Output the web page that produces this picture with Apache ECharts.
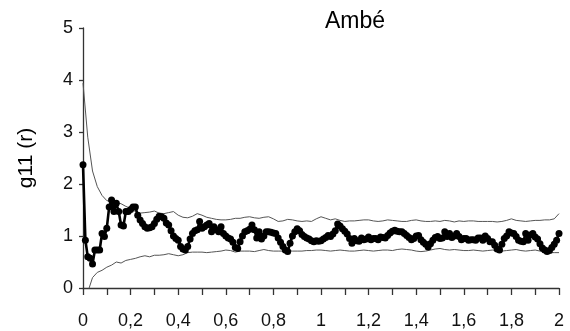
<!DOCTYPE html>
<html>
<head>
<meta charset="utf-8">
<script src="https://cdn.jsdelivr.net/npm/echarts@6/dist/echarts.min.js"></script>
<style>
  html, body { margin: 0; padding: 0; background: #fff; }
  #chart { width: 570px; height: 331px; }
</style>
</head>
<body>
<div id="chart"></div>
<script>
// Pair correlation g11(r), sampled every 0.01 from r = 0 to 2
const gStart = 0, gStep = 0.01;
const g11 = [
  2.37, 0.92, 0.60, 0.57, 0.46, 0.73, 0.73, 0.73, 1.05, 0.99,
  1.15, 1.56, 1.69, 1.47, 1.63, 1.47, 1.21, 1.19, 1.47, 1.47,
  1.51, 1.56, 1.56, 1.40, 1.31, 1.24, 1.18, 1.15, 1.16, 1.18,
  1.24, 1.32, 1.38, 1.37, 1.34, 1.25, 1.21, 1.10, 1.00, 0.95,
  0.92, 0.80, 0.75, 0.73, 0.80, 0.94, 1.05, 1.10, 1.12, 1.28,
  1.15, 1.18, 1.21, 1.24, 1.08, 1.18, 1.12, 1.08, 1.18, 1.05,
  1.00, 0.96, 0.94, 0.88, 0.78, 0.76, 0.89, 1.00, 1.08, 1.10,
  1.13, 1.21, 1.12, 0.96, 1.08, 0.94, 1.00, 1.08, 1.08, 1.07,
  1.06, 1.05, 0.96, 0.88, 0.80, 0.73, 0.70, 0.86, 1.00, 1.08,
  1.14, 1.10, 1.03, 0.99, 0.96, 0.94, 0.91, 0.89, 0.91, 0.90,
  0.91, 0.94, 0.97, 1.01, 0.99, 1.04, 1.10, 1.23, 1.19, 1.14,
  1.09, 1.04, 0.95, 0.86, 0.95, 0.91, 0.90, 0.96, 0.93, 0.94,
  0.98, 0.93, 0.95, 0.95, 0.93, 0.98, 0.97, 0.96, 1.01, 1.06,
  1.09, 1.11, 1.09, 1.08, 1.08, 1.05, 1.01, 0.97, 0.93, 0.95,
  1.00, 1.01, 0.93, 0.88, 0.84, 0.79, 0.85, 0.92, 0.97, 0.99,
  0.95, 0.96, 1.08, 0.99, 1.05, 0.97, 1.00, 1.05, 0.99, 0.93,
  0.95, 0.95, 0.92, 0.93, 0.93, 0.92, 0.96, 0.96, 0.92, 1.00,
  0.95, 0.89, 0.89, 0.82, 0.75, 0.73, 0.84, 0.95, 1.00, 1.08,
  1.06, 1.05, 0.99, 0.92, 0.90, 0.89, 1.05, 0.92, 1.02, 1.05,
  0.98, 0.94, 0.85, 0.77, 0.73, 0.70, 0.72, 0.78, 0.84, 0.92,
  1.05
];

// Confidence envelope, sampled every 0.02 from r = 0 to 2
const envStart = 0, envStep = 0.02;
const envUpper = [
  3.94, 2.90, 2.25, 1.95, 1.78, 1.68, 1.66, 1.65, 1.62, 1.57,
  1.53, 1.47, 1.44, 1.45, 1.46, 1.48, 1.44, 1.43, 1.45, 1.47,
  1.40, 1.36, 1.35, 1.38, 1.43, 1.40, 1.36, 1.34, 1.32, 1.31,
  1.31, 1.32, 1.34, 1.34, 1.36, 1.37, 1.35, 1.34, 1.36, 1.37,
  1.33, 1.28, 1.29, 1.32, 1.31, 1.29, 1.28, 1.29, 1.28, 1.33,
  1.37, 1.34, 1.31, 1.33, 1.30, 1.28, 1.29, 1.29, 1.30, 1.31,
  1.31, 1.29, 1.28, 1.29, 1.31, 1.30, 1.29, 1.28, 1.28, 1.30,
  1.31, 1.29, 1.28, 1.28, 1.29, 1.28, 1.30, 1.29, 1.27, 1.29,
  1.28, 1.29, 1.29, 1.28, 1.28, 1.28, 1.28, 1.27, 1.28, 1.30,
  1.33, 1.30, 1.29, 1.28, 1.29, 1.30, 1.30, 1.31, 1.31, 1.33,
  1.43
];
const envLower = [
  null, -0.08, 0.20, 0.30, 0.34, 0.40, 0.44, 0.50, 0.48, 0.53,
  0.55, 0.57, 0.60, 0.62, 0.60, 0.63, 0.63, 0.64, 0.66, 0.64,
  0.62, 0.64, 0.68, 0.69, 0.69, 0.69, 0.68, 0.69, 0.70, 0.71,
  0.73, 0.72, 0.69, 0.71, 0.71, 0.71, 0.70, 0.72, 0.74, 0.72,
  0.71, 0.71, 0.71, 0.72, 0.71, 0.71, 0.71, 0.72, 0.72, 0.73,
  0.73, 0.72, 0.71, 0.72, 0.73, 0.72, 0.71, 0.71, 0.72, 0.73,
  0.72, 0.71, 0.72, 0.73, 0.73, 0.72, 0.74, 0.75, 0.74, 0.73,
  0.71, 0.70, 0.71, 0.73, 0.75, 0.76, 0.74, 0.73, 0.74, 0.73,
  0.72, 0.72, 0.73, 0.72, 0.71, 0.72, 0.73, 0.72, 0.71, 0.72,
  0.73, 0.74, 0.72, 0.71, 0.72, 0.73, 0.71, 0.69, 0.68, 0.68,
  0.68
];

const titleText = 'Ambé';
const yTitle = 'g11 (r)';

function toPairs(values, start, step) {
  return values.map((v, i) => [+(start + i * step).toFixed(4), v]);
}

const sans = '"Liberation Sans", Arial, sans-serif';

const chart = echarts.init(document.getElementById('chart'), null, { renderer: 'canvas' });

chart.setOption({
  animation: false,
  backgroundColor: '#fff',
  title: {
    text: titleText,
    left: 350,
    top: 5,
    textAlign: 'center',
    textStyle: { fontFamily: sans, fontSize: 23, fontWeight: 'normal', color: '#000' }
  },
  grid: { left: 83, right: 11, top: 28, bottom: 43, containLabel: false },
  xAxis: {
    type: 'value',
    min: 0,
    max: 2,
    interval: 0.1,
    axisLine: { show: true, onZero: false, lineStyle: { color: '#333', width: 1.3 } },
    axisTick: { show: true, inside: false, length: 7, lineStyle: { color: '#333', width: 1.3 } },
    splitLine: { show: false },
    axisLabel: {
      margin: 24,
      color: '#111',
      fontFamily: sans,
      fontSize: 18,
      formatter: function (v) {
        const k = Math.round(v * 10);
        if (k % 2 !== 0) return '';
        return String(k / 10).replace('.', ',');
      }
    }
  },
  yAxis: {
    type: 'value',
    min: 0,
    max: 5,
    interval: 1,
    name: yTitle,
    nameLocation: 'middle',
    nameGap: 46,
    nameRotate: 90,
    nameTextStyle: { fontFamily: sans, fontSize: 21, color: '#000' },
    axisLine: { show: true, lineStyle: { color: '#333', width: 1.3 } },
    axisTick: { show: true, inside: false, length: 4, lineStyle: { color: '#333', width: 1.3 } },
    splitLine: { show: false },
    axisLabel: { margin: 10, color: '#111', fontFamily: sans, fontSize: 18 }
  },
  series: [
    {
      name: 'upper',
      type: 'line',
      data: toPairs(envUpper, envStart, envStep),
      showSymbol: false,
      symbol: 'none',
      clip: true,
      lineStyle: { color: '#555', width: 1 },
      z: 2
    },
    {
      name: 'lower',
      type: 'line',
      data: toPairs(envLower, envStart, envStep),
      showSymbol: false,
      symbol: 'none',
      clip: true,
      connectNulls: false,
      lineStyle: { color: '#555', width: 1 },
      z: 2
    },
    {
      name: 'g11',
      type: 'line',
      data: toPairs(g11, gStart, gStep),
      symbol: 'circle',
      symbolSize: 7,
      showAllSymbol: true,
      itemStyle: { color: '#000' },
      lineStyle: { color: '#000', width: 2.6 },
      clip: false,
      z: 3
    }
  ]
});
</script>
</body>
</html>
